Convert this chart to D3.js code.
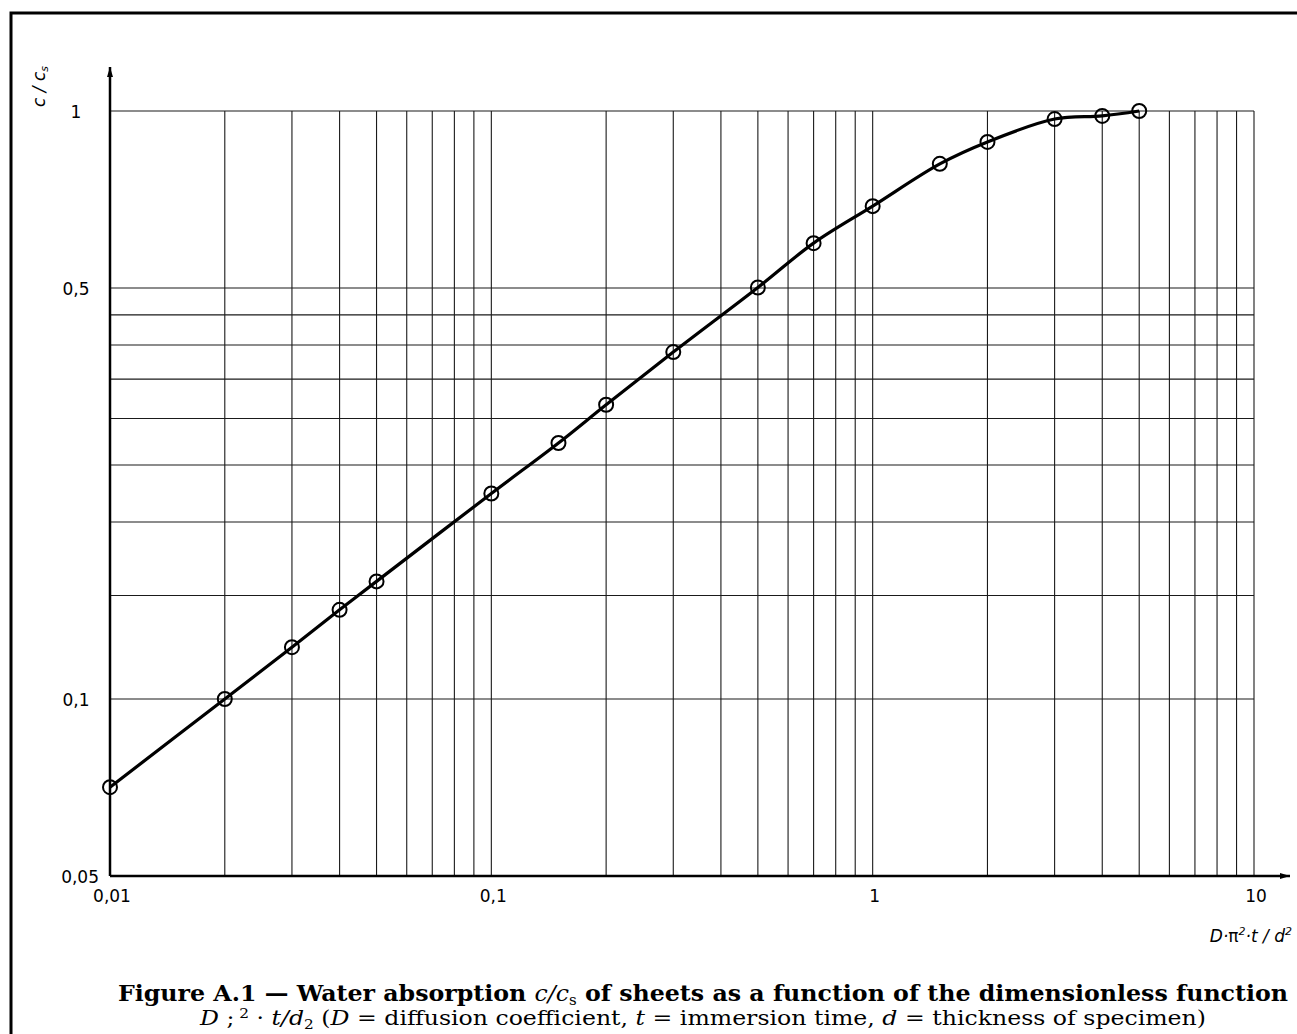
<!DOCTYPE html>
<html>
<head>
<meta charset="utf-8">
<script src="https://cdn.jsdelivr.net/npm/d3@7"></script>
<style>
  body { margin: 0; background: #fff; }
  svg { display: block; }
</style>
</head>
<body>
<div id="chart"></div>
<script>
// Data
const tau = [0.01, 0.02, 0.03, 0.04, 0.05, 0.1, 0.15, 0.2, 0.3, 0.5, 0.7, 1, 1.5, 2, 3, 4, 5];
const ratio = [0.0708, 0.1, 0.1225, 0.1418, 0.1585, 0.2236, 0.2725, 0.3165, 0.389, 0.501, 0.596, 0.689, 0.813, 0.886, 0.969, 0.981, 1.0];

const xTicks = [0.01, 0.1, 1, 10];
const xTickLabels = ['0,01', '0,1', '1', '10'];
const yTicks = [0.05, 0.1, 0.5, 1];
const yTickLabels = ['0,05', '0,1', '0,5', '1'];

const xGrid = [0.02, 0.03, 0.04, 0.05, 0.06, 0.07, 0.08, 0.09, 0.1,
  0.2, 0.3, 0.4, 0.5, 0.6, 0.7, 0.8, 0.9, 1,
  2, 3, 4, 5, 6, 7, 8, 9, 10];
const yGrid = [0.1, 0.15, 0.2, 0.25, 0.3, 0.35, 0.4, 0.45, 0.5, 1];

const config = {
  width: 1297,
  height: 1034,
  left: 110,
  right: 1254,
  top: 111,
  bottom: 876
}

const svg = d3.select('#chart').append('svg')
  .attr('width', config.width)
  .attr('height', config.height);

// frame
svg.append('path')
  .attr('d', `M11,1034 V13 H1297`)
  .attr('fill', 'none')
  .attr('stroke', '#000')
  .attr('stroke-width', 3);

const x = d3.scaleLog().domain([0.01, 10]).range([config.left, config.right]);
const y = d3.scaleLog().domain([0.05, 1]).range([config.bottom, config.top]);

// grid
const grid = svg.append('g').attr('stroke', '#1a1a1a').attr('stroke-width', 1.1);
grid.selectAll('.vg')
  .data(xGrid)
  .enter().append('line')
  .attr('x1', d => x(d)).attr('x2', d => x(d))
  .attr('y1', y(1)).attr('y2', y(0.05));
grid.selectAll('.hg')
  .data(yGrid)
  .enter().append('line')
  .attr('x1', x(0.01)).attr('x2', x(10))
  .attr('y1', d => y(d)).attr('y2', d => y(d));

// axes with arrows
svg.append('defs').append('marker')
  .attr('id', 'arrow')
  .attr('viewBox', '0 0 10 6')
  .attr('refX', 10).attr('refY', 3)
  .attr('markerWidth', 15).attr('markerHeight', 6)
  .attr('markerUnits', 'userSpaceOnUse')
  .attr('orient', 'auto')
  .append('path').attr('d', 'M0,0 L10,3 L0,6 Z').attr('fill', '#000');

svg.append('line')
  .attr('x1', x(0.01)).attr('x2', 1290)
  .attr('y1', y(0.05)).attr('y2', y(0.05))
  .attr('stroke', '#000').attr('stroke-width', 2.5)
  .attr('marker-end', 'url(#arrow)');
svg.append('line')
  .attr('x1', x(0.01)).attr('x2', x(0.01))
  .attr('y1', y(0.05)).attr('y2', 67)
  .attr('stroke', '#000').attr('stroke-width', 2.5)
  .attr('marker-end', 'url(#arrow)');

// tick labels
const tickFont = 'DejaVu Sans, sans-serif';
svg.selectAll('.xt')
  .data(xTicks)
  .enter().append('text')
  .attr('x', d => x(d) + 2).attr('y', 902)
  .attr('text-anchor', 'middle')
  .attr('font-family', tickFont).attr('font-size', 17)
  .text((d, i) => xTickLabels[i]);
svg.selectAll('.yt')
  .data(yTicks)
  .enter().append('text')
  .attr('x', d => d === 0.05 ? 99 : 76)
  .attr('y', d => d === 0.05 ? 883 : y(d) + 7)
  .attr('text-anchor', d => d === 0.05 ? 'end' : 'middle')
  .attr('font-family', tickFont).attr('font-size', 17)
  .text((d, i) => yTickLabels[i]);

// axis titles
const yTitle = svg.append('text')
  .attr('transform', 'translate(45,107) rotate(-90)')
  .attr('font-family', tickFont).attr('font-size', 17).attr('font-style', 'italic');
yTitle.append('tspan').text('c / c');
yTitle.append('tspan').attr('font-size', 11).attr('dy', 3).text('s');

const xTitle = svg.append('text')
  .attr('x', 1292).attr('y', 942)
  .attr('text-anchor', 'end')
  .attr('font-family', tickFont).attr('font-size', 17).attr('font-style', 'italic');
xTitle.append('tspan').text('D·');
xTitle.append('tspan').attr('font-style', 'normal').text('π');
xTitle.append('tspan').attr('font-size', 11).attr('dy', -7).text('2');
xTitle.append('tspan').attr('dy', 7).text('·t / d');
xTitle.append('tspan').attr('font-size', 11).attr('dy', -7).text('2');

// curve and markers
const pts = tau.map((t, i) => [t, ratio[i]]);
svg.append('path')
  .datum(pts)
  .attr('fill', 'none')
  .attr('stroke', '#000')
  .attr('stroke-width', 3.2)
  .attr('d', d3.line().x(d => x(d[0])).y(d => y(d[1])).curve(d3.curveCatmullRom.alpha(0.5)));

svg.selectAll('.pt')
  .data(pts)
  .enter().append('circle')
  .attr('cx', d => x(d[0])).attr('cy', d => y(d[1]))
  .attr('r', 7)
  .attr('fill', 'none')
  .attr('stroke', '#000')
  .attr('stroke-width', 2);

// caption
const capFont = 'DejaVu Serif, serif';
const cap1 = svg.append('text')
  .attr('x', 703).attr('y', 1001)
  .attr('text-anchor', 'middle')
  .attr('font-family', capFont).attr('font-size', 22).attr('font-weight', 'bold')
  .attr('textLength', 1170).attr('lengthAdjust', 'spacingAndGlyphs');
cap1.append('tspan').text('Figure A.1 — Water absorption ');
cap1.append('tspan').attr('font-style', 'italic').attr('font-weight', 'normal').text('c/c');
cap1.append('tspan').attr('font-weight', 'normal').attr('font-size', 14).attr('dy', 4).text('s');
cap1.append('tspan').attr('dy', -4).text(' of sheets as a function of the dimensionless function');

const cap2 = svg.append('text')
  .attr('x', 703).attr('y', 1025)
  .attr('text-anchor', 'middle')
  .attr('font-family', capFont).attr('font-size', 20)
  .attr('textLength', 1006).attr('lengthAdjust', 'spacingAndGlyphs');
cap2.append('tspan').attr('font-style', 'italic').text('D');
cap2.append('tspan').text(' ;');
cap2.append('tspan').attr('font-size', 13).attr('dy', -7).text(' 2');
cap2.append('tspan').attr('dy', 7).text(' · ');
cap2.append('tspan').attr('font-style', 'italic').text('t/d');
cap2.append('tspan').attr('font-size', 13).attr('dy', 4).text('2');
cap2.append('tspan').attr('dy', -4).text(' (');
cap2.append('tspan').attr('font-style', 'italic').text('D');
cap2.append('tspan').text(' = diffusion coefficient, ');
cap2.append('tspan').attr('font-style', 'italic').text('t');
cap2.append('tspan').text(' = immersion time, ');
cap2.append('tspan').attr('font-style', 'italic').text('d');
cap2.append('tspan').text(' = thickness of specimen)');
</script>
</body>
</html>
